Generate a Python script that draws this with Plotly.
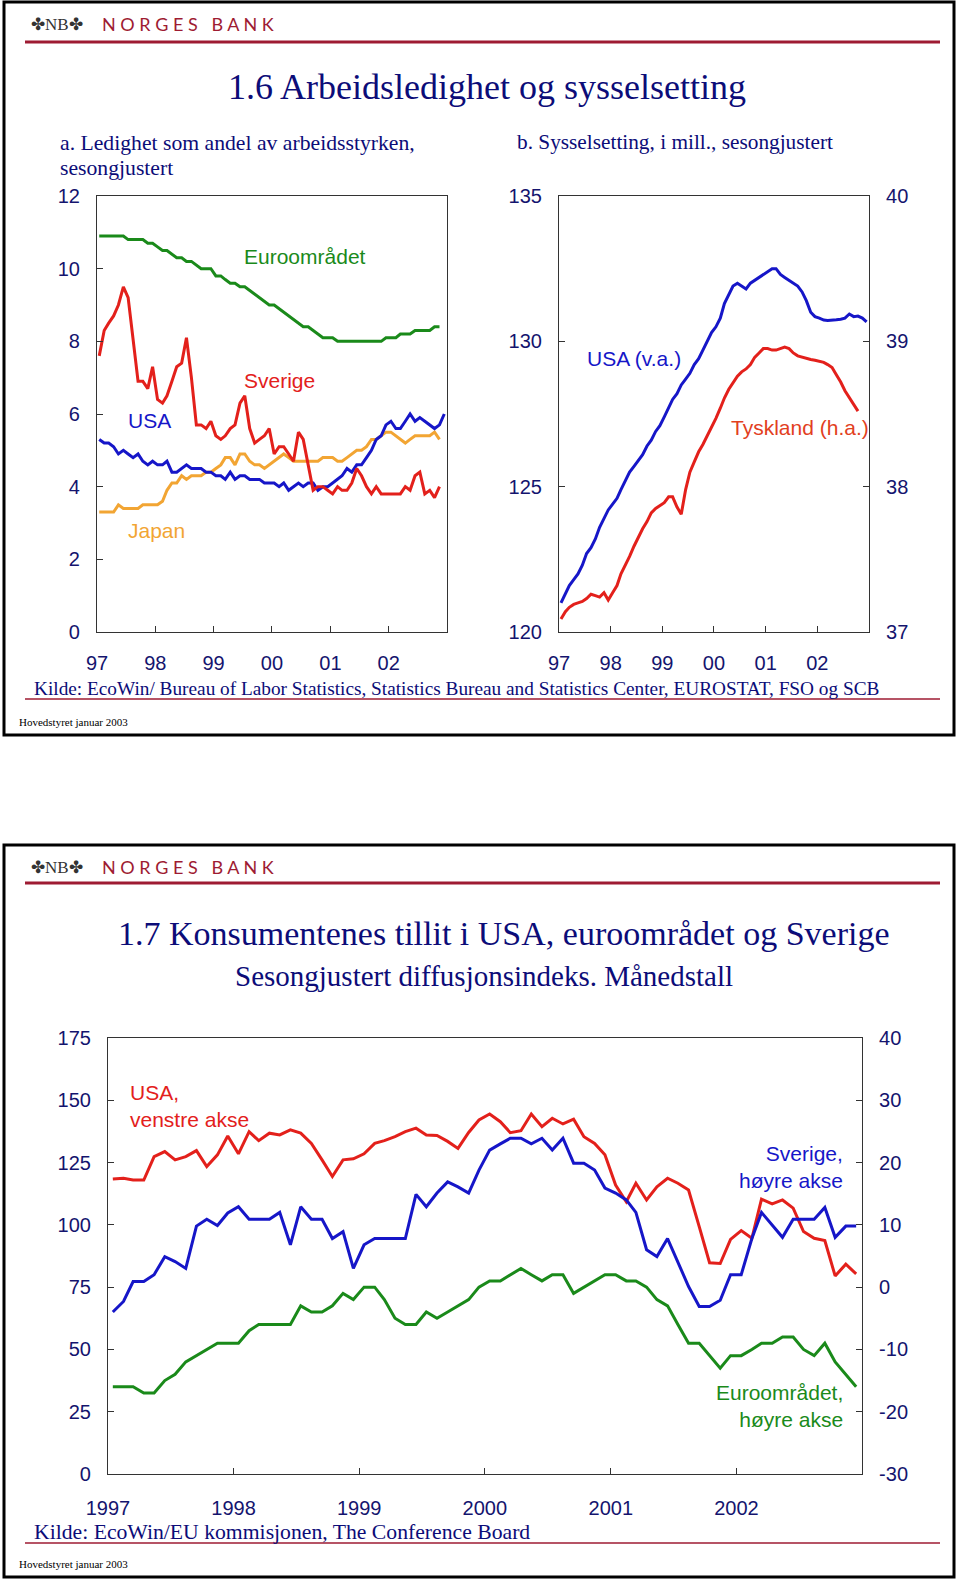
import pandas as pd
import plotly.graph_objects as go

# ---------------- DATA ----------------
# Panel a: unemployment rate (%), monthly from Jan 1997
euro_unemp = [10.9, 10.9, 10.9, 10.9, 10.9, 10.9, 10.8, 10.8, 10.8, 10.8, 10.7, 10.7,
              10.6, 10.5, 10.5, 10.4, 10.3, 10.3, 10.2, 10.2, 10.1, 10.0, 10.0, 10.0,
              9.8, 9.8, 9.7, 9.6, 9.6, 9.5, 9.5, 9.4, 9.3, 9.2, 9.1, 9.0,
              9.0, 8.9, 8.8, 8.7, 8.6, 8.5, 8.4, 8.4, 8.3, 8.2, 8.1, 8.1,
              8.1, 8.0, 8.0, 8.0, 8.0, 8.0, 8.0, 8.0, 8.0, 8.0, 8.0, 8.1,
              8.1, 8.1, 8.2, 8.2, 8.2, 8.3, 8.3, 8.3, 8.3, 8.4, 8.4]
swe_unemp = [7.6, 8.3, 8.5, 8.7, 9.0, 9.5, 9.2, 8.0, 6.9, 6.9, 6.7, 7.3,
             6.4, 6.3, 6.5, 6.9, 7.3, 7.4, 8.1, 7.0, 5.7, 5.7, 5.6, 5.8,
             5.4, 5.3, 5.4, 5.6, 5.7, 6.3, 6.5, 5.6, 5.2, 5.3, 5.4, 5.6,
             4.9, 5.1, 5.1, 4.9, 4.7, 5.5, 5.3, 4.6, 3.9, 4.0, 4.0, 3.9,
             3.8, 4.0, 3.9, 3.9, 4.1, 4.5, 4.3, 4.0, 3.8, 4.0, 3.8, 3.8,
             3.8, 3.8, 3.8, 4.0, 3.9, 4.3, 4.4, 3.8, 3.9, 3.7, 4.0]
usa_unemp = [5.3, 5.2, 5.2, 5.1, 4.9, 5.0, 4.9, 4.8, 4.9, 4.7, 4.6, 4.7,
             4.6, 4.6, 4.7, 4.4, 4.4, 4.5, 4.6, 4.5, 4.5, 4.5, 4.4, 4.4,
             4.3, 4.3, 4.2, 4.4, 4.2, 4.3, 4.3, 4.2, 4.2, 4.2, 4.1, 4.1,
             4.1, 4.0, 4.1, 3.9, 4.0, 4.1, 4.0, 4.1, 4.1, 3.9, 4.0, 4.0,
             4.1, 4.2, 4.3, 4.5, 4.4, 4.6, 4.6, 4.8, 5.0, 5.3, 5.4, 5.7,
             5.8, 5.6, 5.6, 5.8, 6.0, 5.8, 5.9, 5.8, 5.7, 5.6, 5.7, 6.0]
jpn_unemp = [3.3, 3.3, 3.3, 3.3, 3.5, 3.4, 3.4, 3.4, 3.4, 3.5, 3.5, 3.5,
             3.5, 3.6, 3.9, 4.1, 4.1, 4.3, 4.2, 4.3, 4.3, 4.3, 4.4, 4.4,
             4.5, 4.6, 4.8, 4.8, 4.6, 4.9, 4.9, 4.7, 4.6, 4.6, 4.5, 4.6,
             4.7, 4.8, 4.9, 4.8, 4.7, 4.7, 4.7, 4.7, 4.7, 4.7, 4.8, 4.8,
             4.8, 4.7, 4.7, 4.8, 4.9, 5.0, 5.0, 5.1, 5.3, 5.3, 5.4, 5.5,
             5.5, 5.4, 5.3, 5.2, 5.3, 5.4, 5.4, 5.4, 5.4, 5.5, 5.3]

# Panel b: employment, millions
usa_emp = [121.0, 121.3, 121.6, 121.8, 122.0, 122.3, 122.7, 122.9, 123.2, 123.6, 123.9, 124.2,
           124.4, 124.6, 124.9, 125.2, 125.5, 125.7, 125.9, 126.1, 126.4, 126.6, 126.9, 127.1,
           127.4, 127.7, 128.0, 128.2, 128.5, 128.7, 128.9, 129.2, 129.4, 129.7, 130.0, 130.3,
           130.5, 130.8, 131.3, 131.6, 131.9, 132.0, 131.9, 131.8, 132.0, 132.1, 132.2, 132.3,
           132.4, 132.5, 132.5, 132.3, 132.2, 132.1, 132.0, 131.9, 131.7, 131.4, 131.0, 130.85,
           130.8, 130.73, 130.72, 130.72, 130.74, 130.76, 130.8, 130.94, 130.85, 130.87, 130.8, 130.67]
ger_emp = [37.09, 37.14, 37.17, 37.19, 37.20, 37.21, 37.23, 37.26, 37.25, 37.24, 37.27, 37.22,
           37.27, 37.32, 37.40, 37.46, 37.52, 37.59, 37.65, 37.71, 37.76, 37.82, 37.85, 37.87,
           37.89, 37.93, 37.93, 37.86, 37.81, 37.98, 38.10, 38.17, 38.24, 38.29, 38.35, 38.41,
           38.47, 38.54, 38.61, 38.67, 38.71, 38.76, 38.79, 38.81, 38.84, 38.89, 38.92, 38.95,
           38.95, 38.94, 38.94, 38.95, 38.96, 38.95, 38.92, 38.90, 38.89, 38.88, 38.875, 38.87,
           38.865, 38.855, 38.84, 38.82, 38.77, 38.72, 38.66, 38.61, 38.56, 38.52]

# Chart 1.7: consumer confidence
usa_conf = [118.4, 118.7, 118.0, 118.0, 127.4, 129.4, 126.1, 127.4, 129.8, 123.4, 128.1, 135.7,
            128.5, 137.4, 133.8, 136.8, 136.1, 138.1, 136.8, 132.7, 126.1, 119.4, 126.1, 126.5,
            128.5, 132.7, 133.8, 135.4, 137.4, 138.8, 136.1, 135.9, 133.5, 130.7, 137.1, 142.1,
            144.5, 141.4, 137.0, 137.8, 144.5, 139.4, 142.8, 140.5, 142.4, 135.4, 132.7, 128.1,
            116.0, 109.3, 116.7, 110.0, 115.3, 118.7, 116.7, 114.0, 99.3, 84.8, 84.5, 94.2,
            97.7, 94.6, 110.3, 108.4, 110.0, 106.7, 97.3, 94.6, 93.7, 79.5, 84.2, 80.3]
swe_conf = [-4.0, -2.3, 0.9, 0.9, 2.0, 4.9, 4.1, 3.0, 9.8, 10.9, 9.9, 11.9,
            12.9, 10.9, 10.9, 10.9, 12.0, 6.8, 12.9, 10.9, 10.9, 7.8, 8.9, 3.0,
            6.8, 7.8, 7.8, 7.8, 7.8, 14.9, 12.9, 15.1, 16.9, 16.1, 15.1, 18.8,
            22.0, 23.0, 23.9, 23.9, 23.0, 23.9, 22.0, 23.9, 19.9, 19.9, 18.8, 15.9,
            15.1, 14.0, 12.0, 6.0, 4.9, 7.8, 4.1, 0.1, -3.1, -3.1, -2.1, 2.0,
            2.0, 7.8, 12.0, 10.0, 8.0, 10.9, 10.9, 10.9, 12.8, 8.0, 9.8, 9.8]
euro_conf = [-16, -16, -16, -17, -17, -15, -14, -12, -11, -10, -9, -9,
             -9, -7, -6, -6, -6, -6, -3, -4, -4, -3, -1, -2,
             0, 0, -2, -5, -6, -6, -4, -5, -4, -3, -2, 0,
             1, 1, 2, 3, 2, 1, 2, 2, -1, 0, 1, 2,
             2, 1, 1, 0, -2, -3, -6, -9, -9, -11, -13, -11,
             -11, -10, -9, -9, -8, -8, -10, -11, -9, -12, -14, -16]

year_ticks = ["1997-01-01", "1998-01-01", "1999-01-01", "2000-01-01", "2001-01-01", "2002-01-01"]
short_year_labels = ["97", "98", "99", "00", "01", "02"]
long_year_labels = ["1997", "1998", "1999", "2000", "2001", "2002"]
right_conf_vals = [-30, -20, -10, 0, 10, 20, 30, 40]
right_conf_labels = ["-30", "-20", "-10", "0", "10", "20", "30", "40"]


def months(n):
    return pd.date_range("1997-01-01", periods=n, freq="MS") + pd.Timedelta(days=14)


# ---------------- STYLE ----------------
W, H = 960, 1583
SERIF = "Liberation Serif, Times New Roman, serif"
SANS = "Liberation Sans, Arial, sans-serif"
NAVY = "#14146E"
TNAVY = "#0C0C78"
GREEN = "#1A8A1A"
RED = "#E3201B"
BLUE = "#1616C8"
ORANGE = "#F2A533"
TYRED = "#E2401E"
DRED = "#9E1B32"
LW = 3


def px(x):
    return x / W


def py(y):
    return 1 - y / H


fig = go.Figure()

# Panel a
fig.add_trace(go.Scatter(x=months(len(euro_unemp)), y=euro_unemp, mode="lines",
                         line=dict(color=GREEN, width=LW), xaxis="x", yaxis="y"))
fig.add_trace(go.Scatter(x=months(len(jpn_unemp)), y=jpn_unemp, mode="lines",
                         line=dict(color=ORANGE, width=LW), xaxis="x", yaxis="y"))
fig.add_trace(go.Scatter(x=months(len(usa_unemp)), y=usa_unemp, mode="lines",
                         line=dict(color=BLUE, width=LW), xaxis="x", yaxis="y"))
fig.add_trace(go.Scatter(x=months(len(swe_unemp)), y=swe_unemp, mode="lines",
                         line=dict(color=RED, width=LW), xaxis="x", yaxis="y"))
# Panel b
fig.add_trace(go.Scatter(x=months(len(usa_emp)), y=usa_emp, mode="lines",
                         line=dict(color=BLUE, width=LW), xaxis="x2", yaxis="y2"))
fig.add_trace(go.Scatter(x=months(len(ger_emp)), y=ger_emp, mode="lines",
                         line=dict(color=RED, width=LW), xaxis="x2", yaxis="y3"))
# Chart 1.7
fig.add_trace(go.Scatter(x=months(len(euro_conf)), y=euro_conf, mode="lines",
                         line=dict(color=GREEN, width=LW), xaxis="x3", yaxis="y5"))
fig.add_trace(go.Scatter(x=months(len(swe_conf)), y=swe_conf, mode="lines",
                         line=dict(color=BLUE, width=LW), xaxis="x3", yaxis="y5"))
fig.add_trace(go.Scatter(x=months(len(usa_conf)), y=usa_conf, mode="lines",
                         line=dict(color=RED, width=LW), xaxis="x3", yaxis="y4"))

tickfont = dict(family=SANS, size=20, color=NAVY)


def xax(domain, anchor, labels, standoff):
    return dict(domain=domain, anchor=anchor, type="date", automargin=False,
                range=["1997-01-01", "2003-01-01"], tickvals=year_ticks, ticktext=labels,
                ticks="inside", ticklen=6, tickwidth=1, tickcolor="#333",
                showline=True, linecolor="#333", linewidth=1.2, mirror=True,
                showgrid=False, zeroline=False, tickfont=tickfont,
                ticklabelstandoff=standoff, fixedrange=True)


def yax(domain, anchor, rng, dtick, side="left", overlaying=None, mirror=True,
        tickvals=None, ticktext=None):
    d = dict(domain=domain, anchor=anchor, range=rng, dtick=dtick, tick0=rng[0],
             automargin=False,
             ticks="inside", ticklen=6, tickwidth=1, tickcolor="#333",
             showline=True, linecolor="#333", linewidth=1.2, mirror=mirror,
             showgrid=False, zeroline=False, tickfont=tickfont, side=side,
             ticklabelstandoff=12, fixedrange=True)
    if overlaying:
        d["overlaying"] = overlaying
    if tickvals is not None:
        d["tickmode"] = "array"
        d["tickvals"] = tickvals
        d["ticktext"] = ticktext
    return d


top_dom_y = [py(632), py(196)]
bot_dom_y = [py(1474), py(1038)]

fig.update_layout(
    template="none",
    width=W, height=H, margin=dict(l=0, r=0, t=0, b=0, pad=0, autoexpand=False),
    paper_bgcolor="white", plot_bgcolor="white", showlegend=False,
    xaxis=xax([px(97), px(447)], "y", short_year_labels, 13),
    yaxis=yax(top_dom_y, "x", [0, 12], 2),
    xaxis2=xax([px(559), px(869)], "y2", short_year_labels, 13),
    yaxis2=yax(top_dom_y, "x2", [120, 135], 5, mirror=False),
    yaxis3=yax(top_dom_y, "x2", [37, 40], 1, side="right", overlaying="y2", mirror=False),
    xaxis3=xax([px(108), px(862)], "y4", long_year_labels, 16),
    yaxis4=yax(bot_dom_y, "x3", [0, 175], 25, mirror=False),
    yaxis5=yax(bot_dom_y, "x3", [-30, 40], 10, side="right", overlaying="y4", mirror=False,
               tickvals=right_conf_vals, ticktext=right_conf_labels),
)

shapes = []
# slide frames
for (y0, y1) in [(2, 735), (845, 1577)]:
    shapes.append(dict(type="rect", xref="paper", yref="paper", x0=px(4), x1=px(954),
                       y0=py(y1), y1=py(y0), line=dict(color="black", width=3)))
# header lines and source underlines
for yy, w in [(42, 3), (699, 1.5), (883, 3), (1543, 1.5)]:
    shapes.append(dict(type="line", xref="paper", yref="paper", x0=px(25), x1=px(940),
                       y0=py(yy), y1=py(yy), line=dict(color=DRED, width=w)))
fig.update_layout(shapes=shapes)

ann = []


def text(x, y, s, size, color, family, xanchor="center", align="center"):
    ann.append(dict(x=px(x), y=py(y), xref="paper", yref="paper", text=s, showarrow=False,
                    xanchor=xanchor, yanchor="middle", align=align,
                    font=dict(size=size, color=color, family=family)))


# logos
for ly in [24, 867]:
    text(57, ly, "✤NB✤", 17, "#333333", SERIF)
    text(100, ly, "N O R G E S   B A N K", 18, DRED, "Lato, Noto Sans, sans-serif", xanchor="left")

# top slide texts
text(487, 87, "1.6 Arbeidsledighet og sysselsetting", 36, TNAVY, SERIF)
text(58, 143, "a. Ledighet som andel av arbeidsstyrken,", 21.7, TNAVY, SERIF, xanchor="left")
text(58, 168, "sesongjustert", 21.7, TNAVY, SERIF, xanchor="left")
text(515, 142, "b. Sysselsetting, i mill., sesongjustert", 21.3, TNAVY, SERIF, xanchor="left")
text(32, 688, "Kilde: EcoWin/ Bureau of Labor Statistics, Statistics Bureau and Statistics Center, EUROSTAT, FSO og SCB",
     19.3, TNAVY, SERIF, xanchor="left")
text(17, 722, "Hovedstyret januar 2003", 11, "black", SERIF, xanchor="left")

text(305, 257, "Euroområdet", 21, GREEN, SANS)
text(279, 380, "Sverige", 21, RED, SANS)
text(149, 420, "USA", 21, BLUE, SANS)
text(156, 530, "Japan", 21, ORANGE, SANS)
text(634, 359, "USA (v.a.)", 21, BLUE, SANS)
text(800, 428, "Tyskland (h.a.)", 21, TYRED, SANS)

# bottom slide texts
text(504, 933, "1.7 Konsumentenes tillit i USA, euroområdet og Sverige", 34, TNAVY, SERIF)
text(484, 976, "Sesongjustert diffusjonsindeks. Månedstall", 29, TNAVY, SERIF)
text(128, 1106, "USA,<br>venstre akse", 21, RED, SANS, xanchor="left", align="left")
text(845, 1167, "Sverige,<br>høyre akse", 21, BLUE, SANS, xanchor="right", align="right")
text(845, 1406, "Euroområdet,<br>høyre akse", 21, GREEN, SANS, xanchor="right", align="right")
text(32, 1532, "Kilde: EcoWin/EU kommisjonen, The Conference Board", 21.7, TNAVY, SERIF, xanchor="left")
text(17, 1564, "Hovedstyret januar 2003", 11, "black", SERIF, xanchor="left")

fig.update_layout(annotations=ann)
fig.write_html("out.html")
